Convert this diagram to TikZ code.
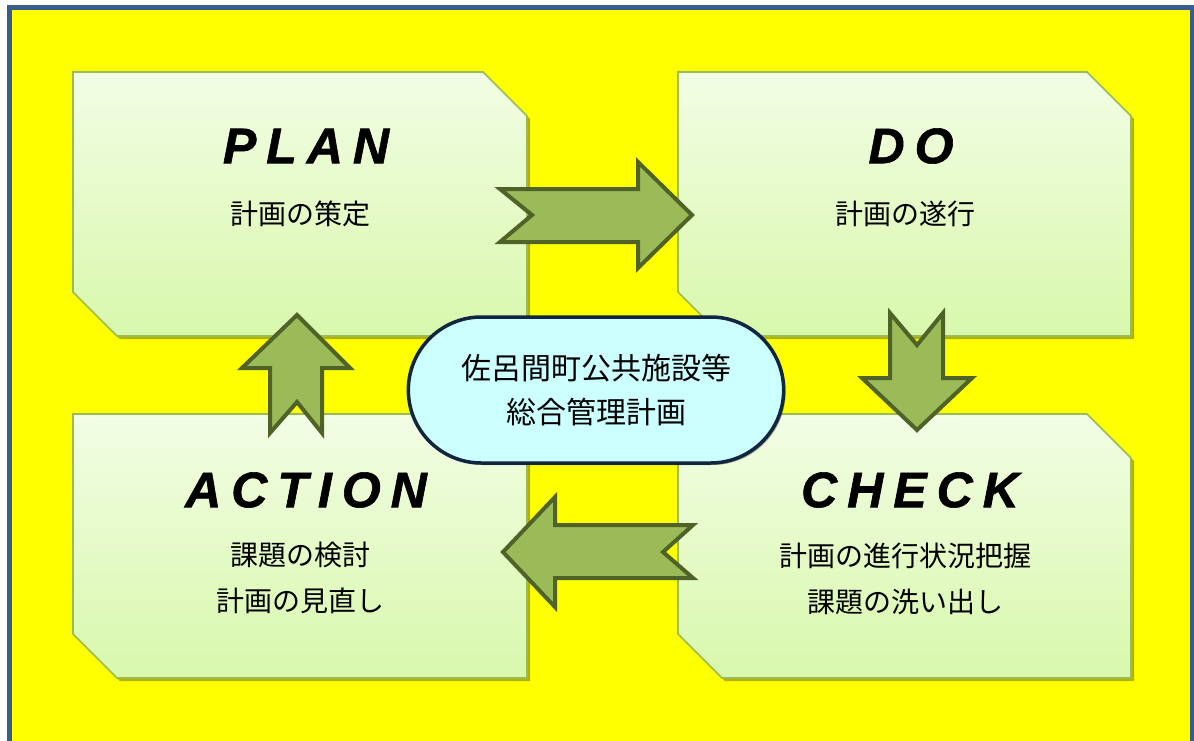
\documentclass[tikz,border=0pt]{standalone}
\usepackage{fontspec}
\newfontfamily\jp{Noto Sans CJK JP}
\newfontfamily\ttl[LetterSpace=20,FakeBold=1.2]{Liberation Sans}
\usetikzlibrary{shapes.misc,shadows}
\definecolor{frameblue}{HTML}{385D8A}
\definecolor{bgyellow}{HTML}{FFFF00}
\definecolor{boxline}{HTML}{9BBB59}
\definecolor{boxtop}{HTML}{F2FDE4}
\definecolor{boxbot}{HTML}{D8F8AC}
\definecolor{arrfill}{HTML}{9BBB59}
\definecolor{arrline}{HTML}{4F6228}
\definecolor{hubfill}{HTML}{CCFFFF}
\definecolor{hubline}{HTML}{10253F}
\tikzset{
  pdcabox/.style={draw=boxline, line width=1.6pt, top color=boxtop, bottom color=boxbot,
    drop shadow={shadow xshift=3pt, shadow yshift=-3pt, opacity=0.3, fill=black}},
  blockarrow/.style={draw=arrline, fill=arrfill, line width=4pt, line join=miter},
  titletext/.style={font=\ttl\bfseries\itshape\fontsize{50}{50}\selectfont, inner sep=0pt},
  subtext/.style={font=\jp\fontsize{28}{46}\selectfont, align=center, inner sep=0pt},
  hub/.style={rounded rectangle, draw=hubline, line width=3.5pt, fill=hubfill,
    minimum width=382pt, minimum height=146pt, align=center,
    font=\jp\fontsize{30}{44}\selectfont,
    drop shadow={shadow xshift=2pt, shadow yshift=-2pt, opacity=0.3, fill=black}}
}
\begin{document}
\begin{tikzpicture}[x=1pt,y=-1pt]
\useasboundingbox (0,0) rectangle (1194,740);
\begin{scope}
\clip (0,0) rectangle (1194,740);
\fill[white] (0,0) rectangle (1194,740);
\draw[frameblue, line width=5pt, fill=bgyellow] (9.5,7.5) rectangle (1192.5,760);
\end{scope}
% boxes
\path[pdcabox] (73,72) -- (483,72) -- (527,116) -- (527,336) -- (117,336) -- (73,292) -- cycle;
\path[pdcabox] (678,72) -- (1087,72) -- (1131,116) -- (1131,336) -- (722,336) -- (678,292) -- cycle;
\path[pdcabox] (73,414) -- (483,414) -- (527,458) -- (527,678) -- (117,678) -- (73,634) -- cycle;
\path[pdcabox] (678,414) -- (1087,414) -- (1131,458) -- (1131,678) -- (722,678) -- (678,634) -- cycle;
% texts
\node[titletext] (plan) at (306,146) {PLAN};
\node[subtext] (plansub) at (300,214) {計画の策定};
\node[titletext] (do) at (911,146) {DO};
\node[subtext] (dosub) at (905,214) {計画の遂行};
\node[titletext] (action) at (306,490) {ACTION};
\node[subtext] (actionsub) at (300,578) {課題の検討\\計画の見直し};
\node[titletext] (check) at (910,490) {CHECK};
\node[subtext] (checksub) at (905,579) {計画の進行状況把握\\課題の洗い出し};
% arrows
\path[blockarrow] (500,189) -- (638,189) -- (638,162) -- (692,215) -- (638,268) -- (638,242) -- (500,242) -- (532,215) -- cycle;
\path[blockarrow] (890,313) -- (917,345) -- (943,313) -- (943,378) -- (972,378) -- (917,430) -- (862,378) -- (890,378) -- cycle;
\path[blockarrow] (503,552) -- (555,497) -- (555,525) -- (693,525) -- (663,552) -- (693,578) -- (555,578) -- (555,607) -- cycle;
\path[blockarrow] (297,315) -- (350,368) -- (322,368) -- (322,433) -- (297,402) -- (270,433) -- (270,368) -- (242,368) -- cycle;
% hub
\node[hub] (center) at (596,390) {佐呂間町公共施設等\\総合管理計画};
\end{tikzpicture}
\end{document}
